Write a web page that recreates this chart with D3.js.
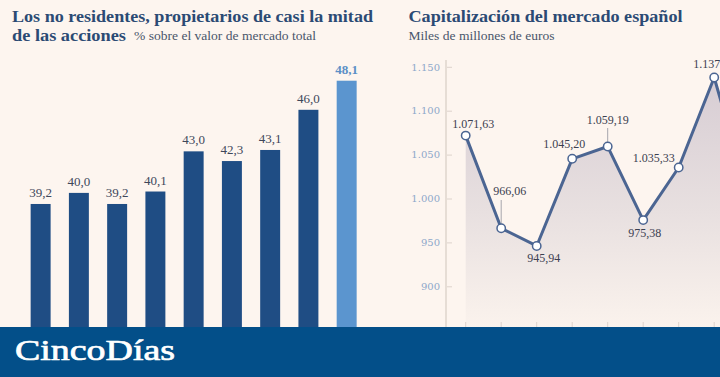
<!DOCTYPE html>
<html><head><meta charset="utf-8">
<script src="https://cdn.jsdelivr.net/npm/d3@7"></script>
<style>
html,body{margin:0;padding:0;background:#fdf5ef;}
svg{display:block;}
</style></head>
<body>
<script>
// ---- Data ----
const barCategories = ["2013","2014","2015","2016","2017","2018","2019","2020","2021"];
const barValues = [39.2, 40.0, 39.2, 40.1, 43.0, 42.3, 43.1, 46.0, 48.1];
const barLabels = ["39,2","40,0","39,2","40,1","43,0","42,3","43,1","46,0","48,1"];

const lineCategories = ["p1","p2","p3","p4","p5","p6","p7","p8","p9"];
const lineValues = [1071.63, 966.06, 945.94, 1045.20, 1059.19, 975.38, 1035.33, 1137.84, 996];
const lineLabels = ["1.071,63","966,06","945,94","1.045,20","1.059,19","975,38","1.035,33","1.137,84",""];
const yTicks = [850, 900, 950, 1000, 1050, 1100, 1150];
const yTickLabels = ["850","900","950","1.000","1.050","1.100","1.150"];

const W = 720, H = 377;
const svg = d3.select("body").append("svg").attr("width", W).attr("height", H);
svg.append("rect").attr("width", W).attr("height", H).attr("fill", "#fdf5ef");

const titleColor = "#2b4a74", subColor = "#4a566b";
const serif = "'Liberation Serif', serif";

// ---- Left chart titles ----
svg.append("text").attr("x", 12).attr("y", 22).attr("font-family", serif).attr("font-weight", "bold")
  .attr("font-size", 16.5).attr("fill", titleColor)
  .attr("textLength", 361).attr("lengthAdjust", "spacingAndGlyphs")
  .text("Los no residentes, propietarios de casi la mitad");
svg.append("text").attr("x", 12).attr("y", 41).attr("font-family", serif).attr("font-weight", "bold")
  .attr("font-size", 16.5).attr("fill", titleColor)
  .attr("textLength", 114).attr("lengthAdjust", "spacingAndGlyphs")
  .text("de las acciones");
svg.append("text").attr("x", 134).attr("y", 40).attr("font-family", serif)
  .attr("font-size", 12).attr("fill", subColor)
  .attr("textLength", 182).attr("lengthAdjust", "spacingAndGlyphs")
  .text("% sobre el valor de mercado total");

// ---- Bars ----
const xb = d3.scaleBand().domain(barCategories).range([21.5, 365.8]).paddingInner(0.478).paddingOuter(0.239);
const yb = d3.scaleLinear().domain([30, 50]).range([331.4, 54.4]);
const gBars = svg.append("g");
gBars.selectAll("rect").data(barValues).join("rect")
  .attr("x", (d,i) => xb(barCategories[i]))
  .attr("y", d => yb(d))
  .attr("width", xb.bandwidth())
  .attr("height", d => 340 - yb(d))
  .attr("fill", (d,i) => i === barValues.length - 1 ? "#5b95cf" : "#1f4d84");
gBars.selectAll("text").data(barValues).join("text")
  .attr("x", (d,i) => xb(barCategories[i]) + xb.bandwidth()/2)
  .attr("y", d => yb(d) - 7)
  .attr("text-anchor", "middle")
  .attr("font-family", serif)
  .attr("font-size", 13)
  .attr("font-weight", (d,i) => i === barValues.length - 1 ? "bold" : "normal")
  .attr("fill", (d,i) => i === barValues.length - 1 ? "#5b8fc6" : "#3e475a")
  .text((d,i) => barLabels[i]);

// ---- Right chart titles ----
svg.append("text").attr("x", 408.5).attr("y", 22).attr("font-family", serif).attr("font-weight", "bold")
  .attr("font-size", 16.5).attr("fill", titleColor)
  .attr("textLength", 274).attr("lengthAdjust", "spacingAndGlyphs")
  .text("Capitalización del mercado español");
svg.append("text").attr("x", 408.5).attr("y", 40).attr("font-family", serif)
  .attr("font-size", 12).attr("fill", subColor)
  .attr("textLength", 146).attr("lengthAdjust", "spacingAndGlyphs")
  .text("Miles de millones de euros");

// ---- Line chart ----
const xl = d3.scalePoint().domain(lineCategories).range([465.7, 465.7 + 8*35.5]);
const yl = d3.scaleLinear().domain([850, 1150]).range([330.2, 66.8]);

// y axis
const yAxis = d3.axisLeft(yl).tickValues(yTicks).tickFormat((d,i) => yTickLabels[i])
  .tickSizeInner(-6).tickSizeOuter(0).tickPadding(6);
const gy = svg.append("g").attr("transform", "translate(446,0)").call(yAxis);
gy.select(".domain").remove();
gy.selectAll(".tick line").attr("stroke", "#ddd3cc").attr("stroke-width", 1);
gy.selectAll(".tick text").attr("font-family", "'DejaVu Serif', serif").attr("font-size", 10)
  .attr("fill", "#8ea8ca");
svg.append("line").attr("x1", 446).attr("x2", 446).attr("y1", 60).attr("y2", 330)
  .attr("stroke", "#e6ddd5").attr("stroke-width", 2);

// gradient
const defs = svg.append("defs");
const grad = defs.append("linearGradient").attr("id", "areaGrad")
  .attr("gradientUnits", "userSpaceOnUse").attr("x1", 0).attr("x2", 0).attr("y1", 70).attr("y2", 330);
grad.append("stop").attr("offset", 0).attr("stop-color", "#d6ccd3");
grad.append("stop").attr("offset", 0.55).attr("stop-color", "#e8e0e0");
grad.append("stop").attr("offset", 1).attr("stop-color", "#fbf3ed");

const area = d3.area().x((d,i) => xl(lineCategories[i])).y0(330).y1(d => yl(d));
svg.append("path").datum(lineValues).attr("d", area).attr("fill", "url(#areaGrad)");

// x ticks
svg.append("g").selectAll("line").data(lineCategories).join("line")
  .attr("x1", d => xl(d)).attr("x2", d => xl(d)).attr("y1", 322).attr("y2", 330)
  .attr("stroke", "#ddd3cc").attr("stroke-width", 1);

const line = d3.line().x((d,i) => xl(lineCategories[i])).y(d => yl(d));
svg.append("path").datum(lineValues).attr("d", line).attr("fill", "none")
  .attr("stroke", "#4b6592").attr("stroke-width", 3).attr("stroke-linejoin", "round");

// leader lines
const leaders = [{i:1, y1: 200}, {i:4, y1: 128}];
svg.append("g").selectAll("line").data(leaders).join("line")
  .attr("x1", d => xl(lineCategories[d.i])).attr("x2", d => xl(lineCategories[d.i]))
  .attr("y1", d => d.y1).attr("y2", d => yl(lineValues[d.i]))
  .attr("stroke", "#a6a6ad").attr("stroke-width", 1);

svg.append("g").selectAll("circle").data(lineValues).join("circle")
  .attr("cx", (d,i) => xl(lineCategories[i])).attr("cy", d => yl(d)).attr("r", 4.2)
  .attr("fill", "#ffffff").attr("stroke", "#4b6592").attr("stroke-width", 1.5);

// data label offsets
const lblOffsets = [
  {dx: 7.5, dy: -7.5, a: "middle"},
  {dx: -8, dy: -33, a: "start"},
  {dx: 7, dy: 16.5, a: "middle"},
  {dx: 13, dy: -11, a: "end"},
  {dx: 0, dy: -22.5, a: "middle"},
  {dx: 1.5, dy: 16.5, a: "middle"},
  {dx: -4, dy: -5.5, a: "end"},
  {dx: -21, dy: -9, a: "start"},
  {dx: 0, dy: 0, a: "middle"}
];
svg.append("g").selectAll("text").data(lineValues).join("text")
  .attr("x", (d,i) => xl(lineCategories[i]) + lblOffsets[i].dx)
  .attr("y", (d,i) => yl(d) + lblOffsets[i].dy)
  .attr("text-anchor", (d,i) => lblOffsets[i].a)
  .attr("font-family", serif).attr("font-size", 12).attr("fill", "#3b4050")
  .text((d,i) => lineLabels[i]);

// ---- Banner ----
svg.append("rect").attr("x", 0).attr("y", 327).attr("width", W).attr("height", 50).attr("fill", "#034f89");
svg.append("text").attr("x", 15).attr("y", 360).attr("font-family", serif).attr("font-size", 29.5)
  .attr("fill", "#ffffff").attr("stroke", "#ffffff").attr("stroke-width", 0.7)
  .attr("textLength", 160).attr("lengthAdjust", "spacingAndGlyphs")
  .text("CincoDías");
</script>
</body></html>
